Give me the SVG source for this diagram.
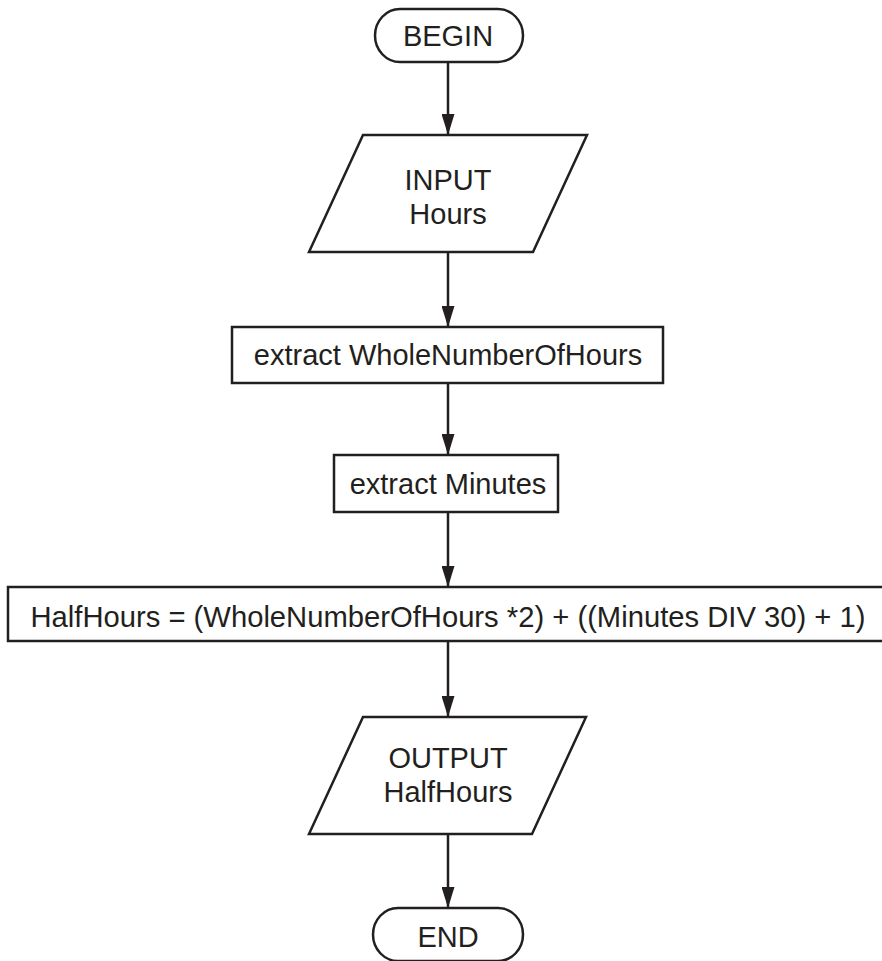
<svg xmlns="http://www.w3.org/2000/svg" width="882" height="961" viewBox="0 0 882 961">
  <defs>
    <style>
      .shape { fill: #ffffff; stroke: #231f20; stroke-width: 2.5; }
      .label { font-family: "Liberation Sans", Arial, sans-serif; font-size: 29px; fill: #231f20; text-anchor: middle; }
      .flow { fill: none; stroke: #231f20; stroke-width: 2.5; }
    </style>
    <marker id="arrow" markerUnits="userSpaceOnUse" markerWidth="21" markerHeight="13" refX="21" refY="6.5" viewBox="0 0 21 13" orient="auto">
      <path d="M0,0 L21,6.5 L0,13 Z" fill="#231f20"/>
    </marker>
  </defs>
  <rect width="882" height="961" fill="#ffffff"/>

  <!-- connectors -->
  <g id="connectors">
    <line class="flow" x1="448" y1="62" x2="448" y2="135" marker-end="url(#arrow)"/>
    <line class="flow" x1="448" y1="252" x2="448" y2="327" marker-end="url(#arrow)"/>
    <line class="flow" x1="448" y1="383" x2="448" y2="455" marker-end="url(#arrow)"/>
    <line class="flow" x1="448" y1="512" x2="448" y2="587" marker-end="url(#arrow)"/>
    <line class="flow" x1="448" y1="641" x2="448" y2="717" marker-end="url(#arrow)"/>
    <line class="flow" x1="448" y1="834" x2="448" y2="908" marker-end="url(#arrow)"/>
  </g>

  <!-- start terminator -->
  <g id="begin">
    <rect class="shape" x="375" y="9" width="148" height="53" rx="25" ry="26.5"/>
    <text class="label" x="448" y="46">BEGIN</text>
  </g>

  <!-- input -->
  <g id="input-hours">
    <polygon class="shape" points="363,135 587,135 533,252 309,252"/>
    <text class="label" x="448" y="190">INPUT</text>
    <text class="label" x="448" y="224">Hours</text>
  </g>

  <!-- process steps -->
  <g id="extract-hours">
    <rect class="shape" x="232" y="327" width="431" height="56"/>
    <text class="label" x="448" y="365">extract WholeNumberOfHours</text>
  </g>

  <g id="extract-minutes">
    <rect class="shape" x="334" y="455" width="224" height="57"/>
    <text class="label" x="448" y="494">extract Minutes</text>
  </g>

  <g id="compute-halfhours">
    <rect class="shape" x="8" y="587" width="890" height="54"/>
    <text class="label" x="448" y="627" textLength="835" lengthAdjust="spacingAndGlyphs">HalfHours = (WholeNumberOfHours *2) + ((Minutes DIV 30) + 1)</text>
  </g>

  <!-- output -->
  <g id="output-halfhours">
    <polygon class="shape" points="363,717 586,717 532,834 309,834"/>
    <text class="label" x="448" y="768">OUTPUT</text>
    <text class="label" x="448" y="802">HalfHours</text>
  </g>

  <!-- end terminator -->
  <g id="end">
    <rect class="shape" x="373" y="908" width="150" height="53" rx="25" ry="26.5"/>
    <text class="label" x="448" y="947">END</text>
  </g>
</svg>
